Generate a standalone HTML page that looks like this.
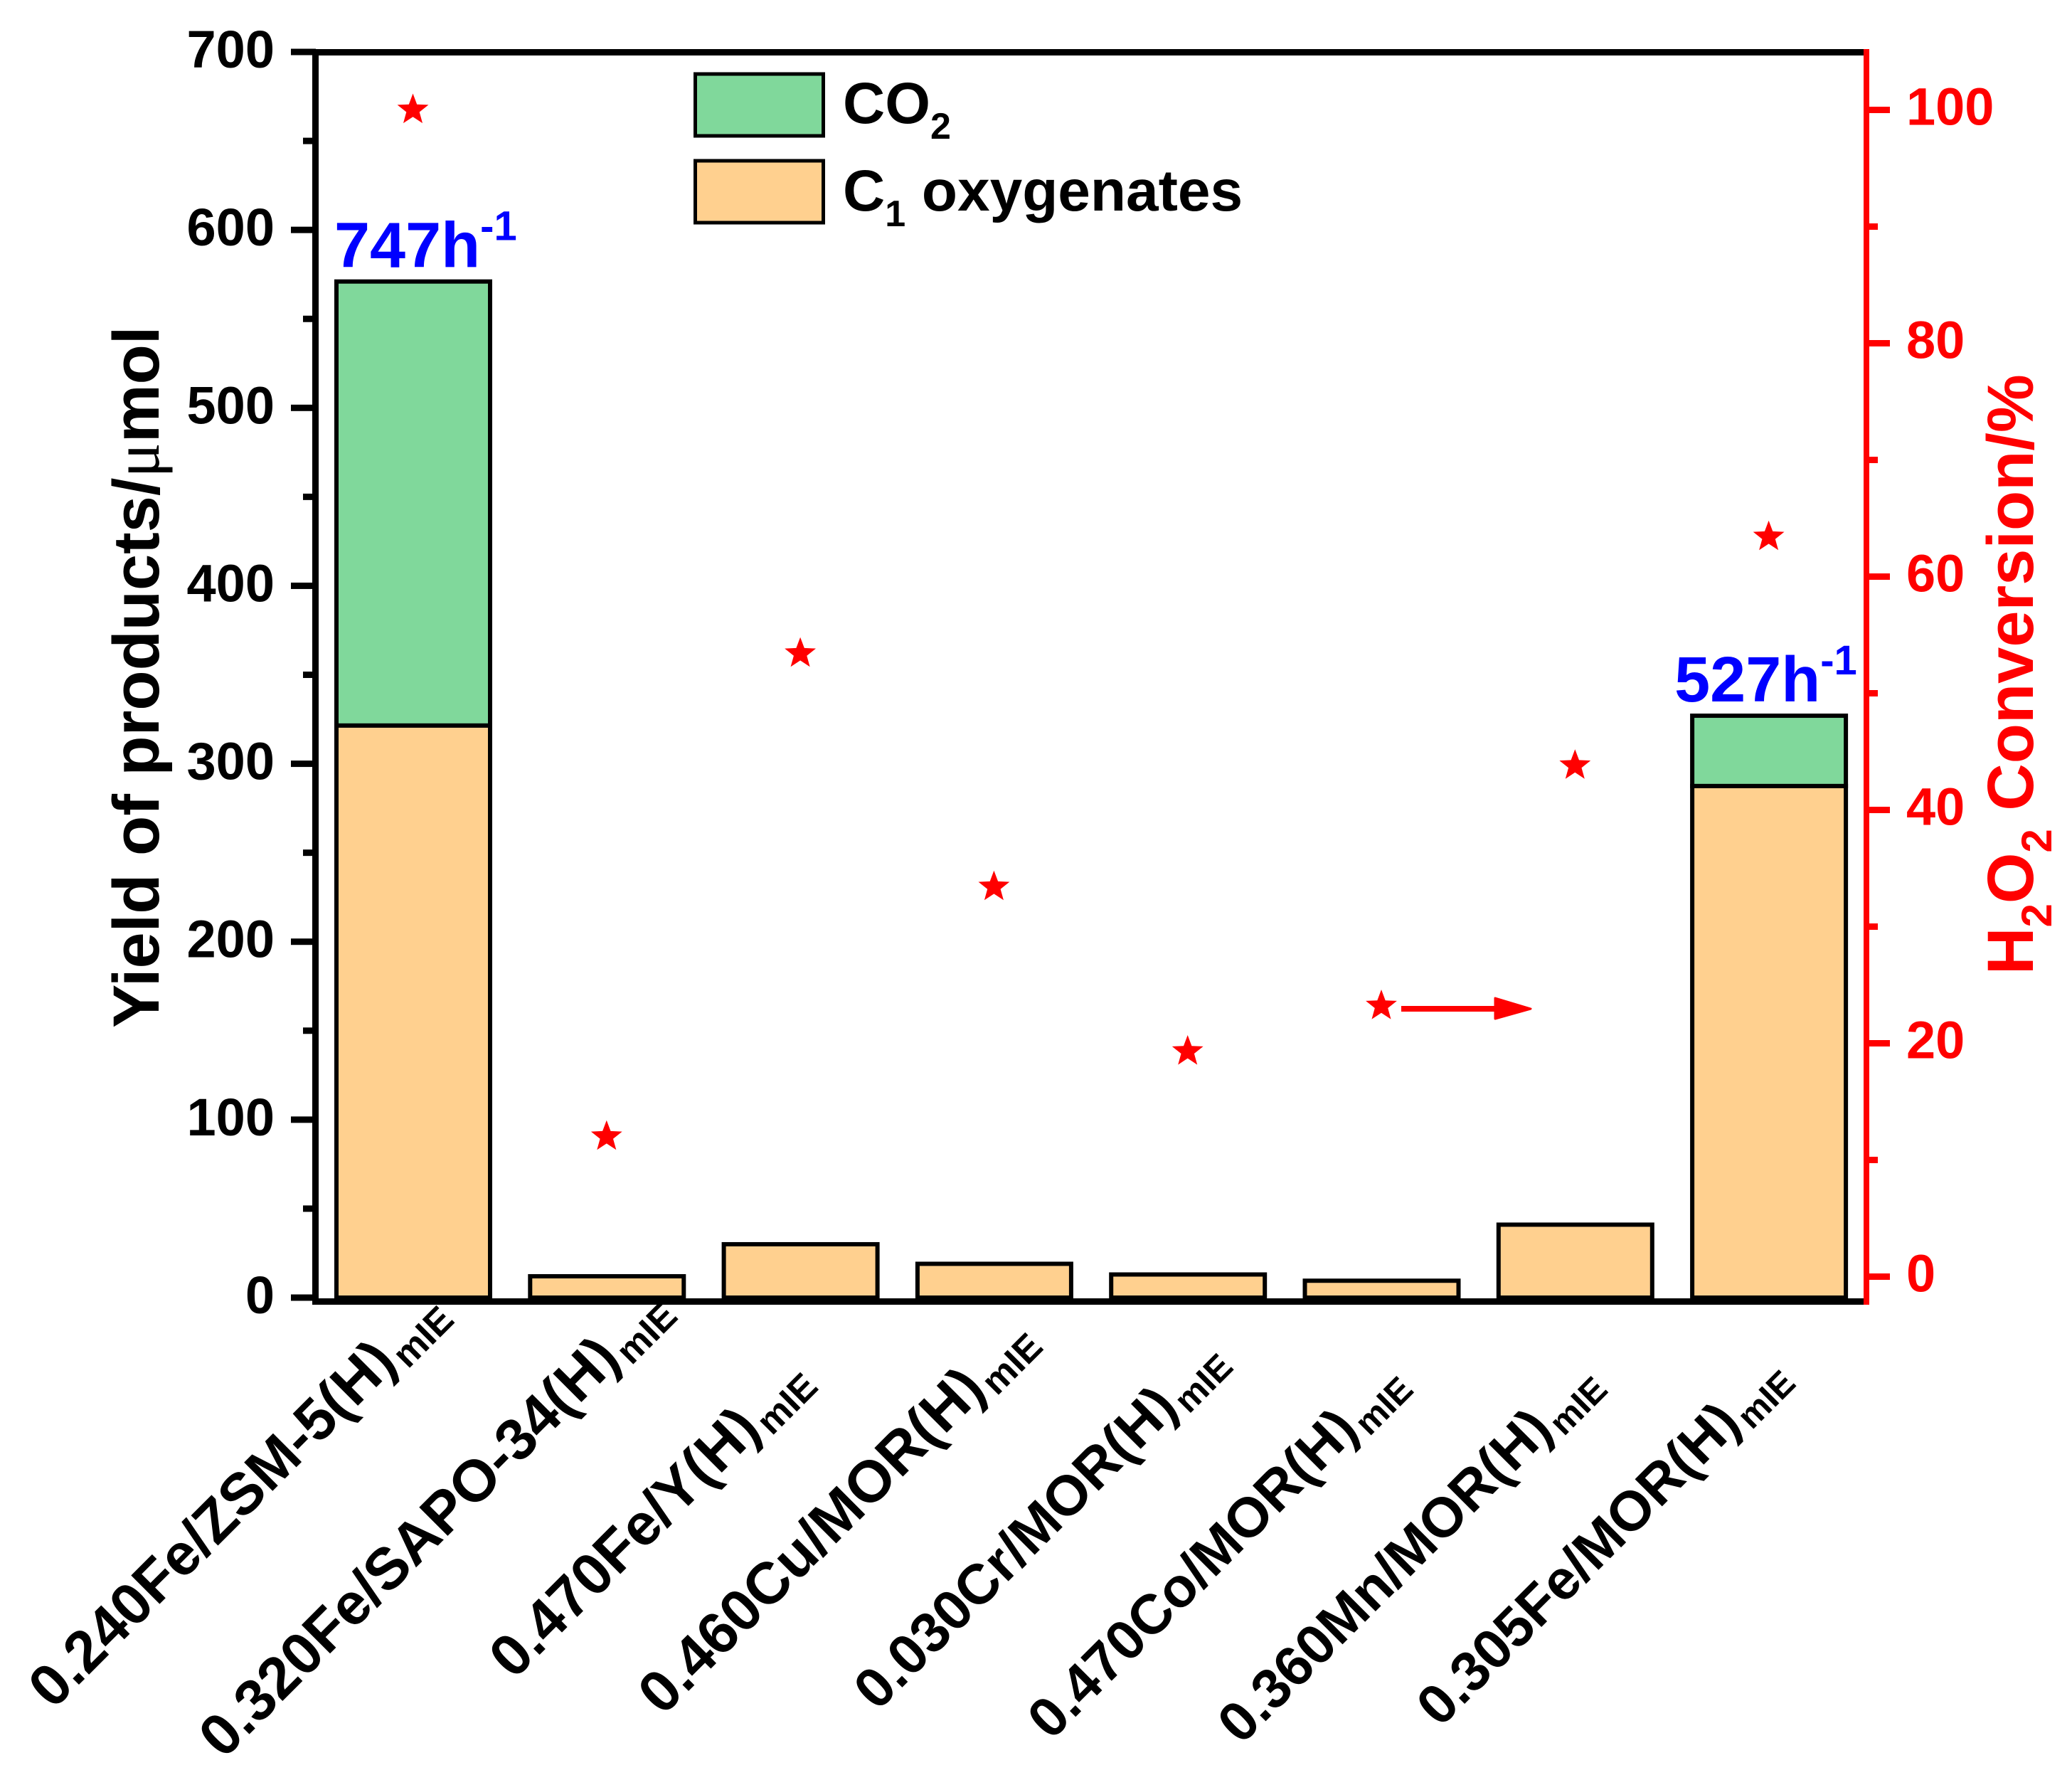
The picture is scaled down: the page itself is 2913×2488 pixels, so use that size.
<!DOCTYPE html>
<html lang="en">
<head>
<meta charset="utf-8">
<title>Yield of products and H2O2 conversion</title>
<style>
html,body{margin:0;padding:0;background:#fff;}
svg{display:block;}
text{font-family:"Liberation Sans",sans-serif;font-weight:bold;}
</style>
</head>
<body>
<svg id="chart" xmlns="http://www.w3.org/2000/svg" width="2913" height="2488" viewBox="0 0 2913 2488">
  <rect x="0" y="0" width="2913" height="2488" fill="#ffffff"/>
  <g id="bars"></g>
  <g id="stars"></g>
  <g id="left-ticks"></g>
  <g id="right-ticks"></g>
  <rect x="440" y="69" width="2184" height="9" fill="#000"/>
  <rect x="440" y="1825" width="2184" height="9" fill="#000"/>
  <rect x="439" y="69" width="9" height="1765" fill="#000"/>
  <rect x="2620" y="69" width="8" height="1765" fill="#ff0000"/>
  <g id="x-labels"></g>
  <g id="rates"></g>

  <text transform="translate(223,1445) rotate(-90)" font-size="92" fill="#000">Yield of products/<tspan font-family="'Liberation Serif',serif" font-weight="normal">&#956;</tspan>mol</text>
  <text transform="translate(2858,1370) rotate(-90)" font-size="92" fill="#ff0000">H<tspan font-size="60" dy="26">2</tspan><tspan dy="-26">O</tspan><tspan font-size="60" dy="26">2</tspan><tspan dy="-26"> Conversion/%</tspan></text>

  <g>
    <rect x="977.5" y="104" width="180" height="87" fill="#80d89b" stroke="#000" stroke-width="5"/>
    <text x="1185" y="173" font-size="82" fill="#000">CO<tspan font-size="52" dy="22">2</tspan></text>
    <rect x="977.5" y="226" width="180" height="87" fill="#ffd08f" stroke="#000" stroke-width="5"/>
    <text x="1185" y="296" font-size="82" fill="#000">C<tspan font-size="52" dy="22">1</tspan><tspan dy="-22"> oxygenates</tspan></text>
  </g>

  <g>
    <rect x="1970" y="1414" width="136" height="8" fill="#ff0000"/>
    <polygon points="2102,1403 2152,1418 2102,1432" fill="#ff0000" stroke="#ff0000" stroke-width="3" stroke-linejoin="round"/>
  </g>
</svg>

<script>
// Chart data
const categories = ["0.240Fe/ZSM-5(H)", "0.320Fe/SAPO-34(H)", "0.470Fe/Y(H)", "0.460Cu/MOR(H)", "0.030Cr/MOR(H)", "0.470Co/MOR(H)", "0.360Mn/MOR(H)", "0.305Fe/MOR(H)"];
const c1Oxygenates = [321.5, 12, 30, 19, 13, 9.5, 41, 287.5];
const co2 = [249.5, 0, 0, 0, 0, 0, 0, 39.5];
const h2o2Conversion = [100, 12, 53.4, 33.4, 19.3, 23.2, 43.8, 63.4];
const rateValues = [747, null, null, null, null, null, null, 527];
const leftMajorTicks = [0, 100, 200, 300, 400, 500, 600, 700];
const leftMinorTicks = [50, 150, 250, 350, 450, 550, 650];
const rightMajorTicks = [0, 20, 40, 60, 80, 100];
const rightMinorTicks = [10, 30, 50, 70, 90];

// Layout constants for hand-placed labels
const labelShift = [[50, 24], [92, 19], [17, 118], [61, 62], [56, 90], [37, 122], [38, 122], [30, 113]];
const labelFontSize = [82.5, 82.5, 82.5, 82.5, 79, 78.5, 78.5, 78.5];
const rateShift = [-111, 0, 0, 0, 0, 0, 0, -133];

const NS = "http://www.w3.org/2000/svg";
function yLeft(v) { return 1824 - v * 2.5014; }
function yRight(v) { return 1794.5 - v * 16.4; }
function xCat(i) { return 581 + i * 272.3; }
const BAR_WIDTH = 216;
function node(tag, parent) {
  const el = document.createElementNS(NS, tag);
  parent.appendChild(el);
  return el;
}
function setAll(el, attrs) {
  Object.keys(attrs).forEach(function (k) { el.setAttribute(k, attrs[k]); });
}
function starPoints(cx, cy, R) {
  const pts = [];
  for (let k = 0; k < 10; k++) {
    const r = k % 2 === 0 ? R : R * 0.42;
    const a = -Math.PI / 2 + k * Math.PI / 5;
    pts.push((cx + r * Math.cos(a)).toFixed(1) + "," + (cy + r * Math.sin(a)).toFixed(1));
  }
  return pts.join(" ");
}

const barsG = document.getElementById("bars");
categories.forEach(function (name, i) {
  const x = xCat(i) - BAR_WIDTH / 2;
  const low = node("rect", barsG);
  
  
  setAll(low, { x: x, y: yLeft(c1Oxygenates[i]), width: BAR_WIDTH, height: yLeft(0) - yLeft(c1Oxygenates[i]), fill: "#ffd08f", stroke: "#000", "stroke-width": 6 });
  if (co2[i] > 0) {
    const up = node("rect", barsG);
    
    
    setAll(up, { x: x, y: yLeft(c1Oxygenates[i] + co2[i]), width: BAR_WIDTH, height: yLeft(c1Oxygenates[i]) - yLeft(c1Oxygenates[i] + co2[i]), fill: "#80d89b", stroke: "#000", "stroke-width": 6 });
  }
});

const starsG = document.getElementById("stars");
h2o2Conversion.forEach(function (v, i) {
  const s = node("polygon", starsG);
  
  
  setAll(s, { points: starPoints(xCat(i) - 0.5, yRight(v), 23), fill: "#ff0000" });
});

const leftG = document.getElementById("left-ticks");
leftMajorTicks.forEach(function (v) {
  const t = node("rect", leftG);
  
  
  setAll(t, { x: 409, y: yLeft(v) - 4.5, width: 35, height: 9, fill: "#000" });
  const l = node("text", leftG);
  
  
  setAll(l, { x: 386, y: yLeft(v) + 22, "text-anchor": "end", "font-size": 74, fill: "#000" });
  l.textContent = String(v);
});
leftMinorTicks.forEach(function (v) {
  const t = node("rect", leftG);
  
  
  setAll(t, { x: 426, y: yLeft(v) - 4.5, width: 18, height: 9, fill: "#000" });
});

const rightG = document.getElementById("right-ticks");
rightMajorTicks.forEach(function (v) {
  const t = node("rect", rightG);
  
  
  setAll(t, { x: 2624, y: yRight(v) - 4.5, width: 33, height: 9, fill: "#ff0000" });
  const l = node("text", rightG);
  
  
  setAll(l, { x: 2680, y: yRight(v) + 21, "font-size": 74, fill: "#ff0000" });
  l.textContent = String(v);
});
rightMinorTicks.forEach(function (v) {
  const t = node("rect", rightG);
  
  
  setAll(t, { x: 2624, y: yRight(v) - 4.5, width: 16, height: 9, fill: "#ff0000" });
});

const xG = document.getElementById("x-labels");
categories.forEach(function (name, i) {
  const t = node("text", xG);
  
  
  const ax = xCat(i) + labelShift[i][0];
  const ay = 1824 + labelShift[i][1];
  setAll(t, { transform: "translate(" + ax + "," + ay + ") rotate(-45)", "text-anchor": "end", "font-size": labelFontSize[i], fill: "#000" });
  const main = node("tspan", t);
  main.textContent = name;
  const sub = node("tspan", t);
  setAll(sub, { "font-size": labelFontSize[i] * 0.63, dy: 14, dx: 4 });
  sub.textContent = "mIE";
});

const ratesG = document.getElementById("rates");
rateValues.forEach(function (v, i) {
  if (v === null) { return; }
  const t = node("text", ratesG);
  
  
  setAll(t, { x: xCat(i) + rateShift[i], y: yLeft(c1Oxygenates[i] + co2[i]) - 20, "font-size": 90, fill: "#0000ff" });
  const main = node("tspan", t);
  main.textContent = v + "h";
  const sup = node("tspan", t);
  setAll(sup, { "font-size": 58, dy: -38 });
  sup.textContent = "-1";
});
</script>
</body>
</html>
